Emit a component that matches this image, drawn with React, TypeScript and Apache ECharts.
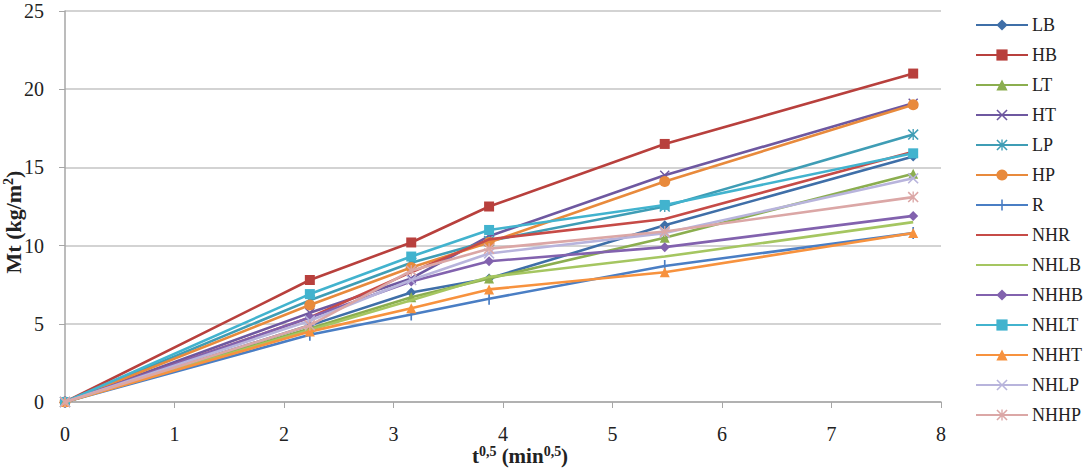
import React, { useEffect, useRef } from "react";
import * as echarts from "echarts";

// square root of time (min^0.5)
const tValues = [0, 2.236, 3.162, 3.873, 5.477, 7.746];

const seriesNames = ["LB", "HB", "LT", "HT", "LP", "HP", "R", "NHR", "NHLB", "NHHB", "NHLT", "NHHT", "NHLP", "NHHP"];

const LB = [0, 4.9, 7.0, 7.9, 11.3, 15.7];
const HB = [0, 7.8, 10.2, 12.5, 16.5, 21.0];
const LT = [0, 4.7, 6.7, 7.9, 10.5, 14.6];
const HT = [0, 5.7, 7.9, 10.6, 14.5, 19.1];
const LP = [0, 6.5, 8.9, 10.3, 12.5, 17.1];
const HP = [0, 6.2, 8.6, 10.2, 14.1, 19.0];
const R = [0, 4.3, 5.6, 6.6, 8.7, 10.8];
const NHR = [0, 5.4, 8.3, 10.4, 11.7, 16.0];
const NHLB = [0, 4.6, 6.5, 8.0, 9.3, 11.5];
const NHHB = [0, 5.4, 7.7, 9.0, 9.9, 11.9];
const NHLT = [0, 6.9, 9.3, 11.0, 12.6, 15.9];
const NHHT = [0, 4.5, 6.0, 7.2, 8.3, 10.8];
const NHLP = [0, 5.2, 7.8, 9.5, 10.8, 14.3];
const NHHP = [0, 4.9, 8.4, 9.8, 10.9, 13.1];

const seriesValues = [LB, HB, LT, HT, LP, HP, R, NHR, NHLB, NHHB, NHLT, NHHT, NHLP, NHHP];

const yTicks = [0, 5, 10, 15, 20, 25];
const xTicks = [0, 1, 2, 3, 4, 5, 6, 7, 8];

// marker outlines: x-cross, asterisk, plus (vertical tick inside a square box of specks)
const CROSS = "path://M0,1L1,0L5,4L9,0L10,1L6,5L10,9L9,10L5,6L1,10L0,9L4,5Z";
const STAR = "path://M0,1L1,0L5,4L9,0L10,1L6,5L10,9L9,10L5,6L1,10L0,9L4,5ZM4.4,0L5.6,0L5.6,10L4.4,10Z";
const PLUS = "path://M0,0L0.01,0L0.01,0.01ZM10,10L9.99,10L9.99,9.99ZM4.3,0L5.7,0L5.7,10L4.3,10Z";

const colors = [
  "#3F6FA8", "#B8403D", "#8BAE4F", "#6E58A0", "#3F9DB5", "#E88A3C", "#4A7EC4",
  "#C64B47", "#A5C661", "#8262AE", "#42B3CE", "#F7923E", "#B8B4DC", "#DBA7A6",
];

const symbols = ["diamond", "rect", "triangle", CROSS, STAR, "circle", PLUS, "", "", "diamond", "rect", "triangle", CROSS, STAR];
const symbolSizes = [10, 10, 10, 10, 11, 11, 12, 0, 0, 10, 10, 10, 11, 11];

const FONT = "Liberation Serif";

export default function App() {
  const ref = useRef<HTMLDivElement>(null);

  useEffect(() => {
    if (!ref.current) return;
    const chart = echarts.init(ref.current, null, { renderer: "svg" });

    const series = seriesNames.map((name, i) => {
      const plain = symbols[i] === "";
      return {
        name,
        type: "line",
        data: tValues.map((t, j) => [t, seriesValues[i][j]]),
        symbol: plain ? "circle" : symbols[i],
        symbolSize: symbolSizes[i],
        symbolKeepAspect: true,
        showSymbol: !plain,
        lineStyle: { color: colors[i], width: 2.6 },
        itemStyle: { color: plain ? "rgba(0,0,0,0)" : colors[i] },
        z: 2 + i,
      };
    });

    chart.setOption({
      animation: false,
      backgroundColor: "#ffffff",
      grid: { left: 65, right: 142, top: 11, bottom: 66, containLabel: false },
      xAxis: {
        type: "value",
        min: 0,
        max: 8,
        interval: 1,
        axisLine: { show: true, lineStyle: { color: "#A6A6A6", width: 1.5 } },
        axisTick: { show: true, length: 6, lineStyle: { color: "#A6A6A6" } },
        axisLabel: {
          margin: 22,
          fontFamily: FONT,
          fontSize: 20,
          color: "#222",
          formatter: (v: number) => (xTicks.includes(v) ? String(v) : ""),
        },
        splitLine: { show: false },
      },
      yAxis: {
        type: "value",
        min: 0,
        max: 25,
        interval: 5,
        axisLine: { show: true, lineStyle: { color: "#A6A6A6", width: 1.5 } },
        axisTick: { show: true, length: 6, lineStyle: { color: "#A6A6A6" } },
        axisLabel: {
          margin: 21,
          fontFamily: FONT,
          fontSize: 20,
          color: "#222",
          formatter: (v: number) => (yTicks.includes(v) ? String(v) : ""),
        },
        splitLine: { show: true, lineStyle: { color: "#C4C4C4", width: 1.5 } },
      },
      legend: {
        orient: "vertical",
        left: 970,
        top: 11,
        height: 440,
        itemWidth: 52,
        itemHeight: 14,
        itemGap: 12,
        textStyle: { fontFamily: FONT, fontSize: 18, lineHeight: 18, color: "#222", padding: [0, 0, 0, -1] },
        data: seriesNames,
      },
      graphic: [
        {
          type: "text",
          x: 520,
          y: 456,
          style: {
            text: "{b|t}{s|0,5}{b| (min}{s|0,5}{b|)}",
            align: "center",
            verticalAlign: "middle",
            rich: {
              b: { fontFamily: FONT, fontSize: 21, fontWeight: "bold", fill: "#222" },
              s: { fontFamily: FONT, fontSize: 14, fontWeight: "bold", fill: "#222", padding: [0, 0, 9, 0] },
            },
          },
        },
        {
          type: "text",
          x: 13,
          y: 222,
          rotation: Math.PI / 2,
          style: {
            text: "{b|Mt (kg/m}{s|2}{b|)}",
            align: "center",
            verticalAlign: "middle",
            rich: {
              b: { fontFamily: FONT, fontSize: 22, fontWeight: "bold", fill: "#222" },
              s: { fontFamily: FONT, fontSize: 14, fontWeight: "bold", fill: "#222", padding: [0, 0, 9, 0] },
            },
          },
        },
      ],
      series,
    });

    return () => chart.dispose();
  }, []);

  return <div ref={ref} style={{ width: 1083, height: 468, position: "absolute", left: 0, top: 0 }} />;
}
